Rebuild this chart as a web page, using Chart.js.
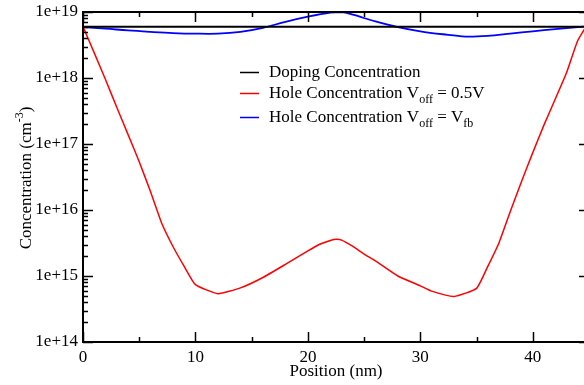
<!DOCTYPE html>
<html>
<head>
<meta charset="utf-8">
<script src="https://cdn.jsdelivr.net/npm/chart.js@4.4.1/dist/chart.umd.min.js"></script>
<style>
  html, body { margin: 0; padding: 0; background: #fff; overflow: hidden; }
  #wrap { width: 600px; height: 385px; }
</style>
</head>
<body>
<div id="wrap"><canvas id="myChart" width="600" height="385"></canvas></div>
<script>
// positions (nm) and concentrations (cm^-3)
var dopingX = [0, 45];
var dopingConc = [6.0e18, 6.0e18];

var holeX05 = [0, 1, 2, 3, 4, 5, 6, 7, 8, 9, 10, 12, 14, 16, 18, 20, 21, 22, 22.5, 23, 24, 25, 26, 28, 30, 31, 33, 35, 36, 37, 38, 39, 40, 41, 42, 43, 44, 45];
var hole05 = [6.0e18, 2.4e18, 9.5e17, 3.6e17, 1.4e17, 5.4e16, 1.9e16, 6.3e15, 2.8e15, 1.4e15, 7.4e14, 5.4e14, 6.6e14, 9.5e14, 1.5e15, 2.4e15, 3.0e15, 3.45e15, 3.6e15, 3.5e15, 2.8e15, 2.15e15, 1.7e15, 1.0e15, 7.1e14, 5.9e14, 4.9e14, 6.5e14, 1.4e15, 3.2e15, 9.5e15, 2.7e16, 7.4e16, 1.95e17, 4.8e17, 1.2e18, 3.7e18, 7.1e18];

var holeXfb = [0, 2, 4, 6, 8, 10, 12, 14, 16, 18, 20, 22, 23, 24, 26, 28, 30, 32, 34, 36, 38, 40, 42, 44, 45];
var holeFb = [5.9e18, 5.6e18, 5.25e18, 5.0e18, 4.8e18, 4.7e18, 4.7e18, 5.0e18, 5.75e18, 7.1e18, 8.5e18, 9.8e18, 1.0e19, 9.1e18, 7.2e18, 5.9e18, 5.1e18, 4.6e18, 4.25e18, 4.35e18, 4.7e18, 5.1e18, 5.5e18, 5.9e18, 6.1e18];

var xMajor = [0, 10, 20, 30, 40];
var xMinor = [5, 15, 25, 35, 45];
var yDecades = [14, 15, 16, 17, 18, 19];

var serif = "'Liberation Serif', 'DejaVu Serif', serif";

function toPoints(xs, ys) {
  var pts = [];
  for (var i = 0; i < xs.length; i++) pts.push({ x: xs[i], y: ys[i] });
  return pts;
}

// draws the frame, inward ticks, axis titles and legend
var decorPlugin = {
  id: 'decor',
  afterDraw: function (chart) {
    var ctx = chart.ctx;
    var a = chart.chartArea;
    var xs = chart.scales.x, ys = chart.scales.y;
    ctx.save();
    ctx.strokeStyle = '#000';
    ctx.lineWidth = 2;
    ctx.strokeRect(a.left, a.top, a.right - a.left, a.bottom - a.top);

    ctx.lineWidth = 1.5;
    ctx.beginPath();
    xMajor.forEach(function (v) {
      var px = Math.round(xs.getPixelForValue(v)) + 0.5;
      ctx.moveTo(px, a.bottom); ctx.lineTo(px, a.bottom - 10);
      ctx.moveTo(px, a.top); ctx.lineTo(px, a.top + 10);
    });
    xMinor.forEach(function (v) {
      var px = Math.round(xs.getPixelForValue(v)) + 0.5;
      ctx.moveTo(px, a.bottom); ctx.lineTo(px, a.bottom - 5);
      ctx.moveTo(px, a.top); ctx.lineTo(px, a.top + 5);
    });
    yDecades.forEach(function (e) {
      for (var k = 1; k <= 9; k++) {
        var val = k * Math.pow(10, e);
        if (val > 1e19 * 1.0001) break;
        var py = Math.round(ys.getPixelForValue(val)) + 0.5;
        var len = k === 1 ? 10 : 5;
        ctx.moveTo(a.left, py); ctx.lineTo(a.left + len, py);
        ctx.moveTo(a.right, py); ctx.lineTo(a.right - len, py);
      }
    });
    ctx.stroke();

    ctx.fillStyle = '#000';
    ctx.textBaseline = 'alphabetic';

    // x title
    ctx.font = '17px ' + serif;
    ctx.textAlign = 'center';
    ctx.fillText('Position (nm)', (a.left + a.right) / 2, 376);

    // y title with superscript
    ctx.save();
    ctx.translate(31, 178);
    ctx.rotate(-Math.PI / 2);
    ctx.textAlign = 'left';
    var t1 = 'Concentration (cm', t2 = '-3', t3 = ')';
    ctx.font = '17px ' + serif;
    var w1 = ctx.measureText(t1).width, w3 = ctx.measureText(t3).width;
    ctx.font = '12px ' + serif;
    var w2 = ctx.measureText(t2).width;
    var x0 = -(w1 + w2 + w3) / 2;
    ctx.font = '17px ' + serif;
    ctx.fillText(t1, x0, 0);
    ctx.font = '12px ' + serif;
    ctx.fillText(t2, x0 + w1, -8);
    ctx.font = '17px ' + serif;
    ctx.fillText(t3, x0 + w1 + w2, 0);
    ctx.restore();

    // legend
    var items = [
      { color: '#000000', y: 72, parts: [['Doping Concentration', 0]] },
      { color: '#ff0000', y: 93, parts: [['Hole Concentration V', 0], ['off', 1], [' = 0.5V', 0]] },
      { color: '#0000ff', y: 117, parts: [['Hole Concentration V', 0], ['off', 1], [' = V', 0], ['fb', 1]] }
    ];
    ctx.textAlign = 'left';
    items.forEach(function (it) {
      ctx.strokeStyle = it.color;
      ctx.lineWidth = 1.5;
      ctx.beginPath();
      ctx.moveTo(240, it.y + 0.5); ctx.lineTo(259, it.y + 0.5);
      ctx.stroke();
      var x = 269;
      it.parts.forEach(function (p) {
        ctx.font = (p[1] ? '12px ' : '17px ') + serif;
        ctx.fillText(p[0], x, it.y + 5 + (p[1] ? 5 : 0));
        x += ctx.measureText(p[0]).width;
      });
    });
    ctx.restore();
  }
};

var ctx = document.getElementById('myChart').getContext('2d');
var chart = new Chart(ctx, {
  type: 'line',
  data: {
    datasets: [
      { label: 'Doping Concentration', data: toPoints(dopingX, dopingConc), borderColor: '#000000', borderWidth: 2, pointRadius: 0, fill: false },
      { label: 'Hole Concentration Voff = 0.5V', data: toPoints(holeX05, hole05), borderColor: '#ff0000', borderWidth: 1.5, pointRadius: 0, fill: false, tension: 0.15 },
      { label: 'Hole Concentration Voff = Vfb', data: toPoints(holeXfb, holeFb), borderColor: '#0000ff', borderWidth: 1.8, pointRadius: 0, fill: false, tension: 0.35 }
    ]
  },
  options: {
    responsive: false,
    animation: false,
    layout: { padding: { top: 12, right: 11, left: 0, bottom: 0 } },
    plugins: { legend: { display: false }, tooltip: { enabled: false } },
    scales: {
      x: {
        type: 'linear',
        min: 0,
        max: 45,
        grid: { display: false, drawTicks: false },
        border: { display: false },
        ticks: {
          stepSize: 10,
          padding: 5,
          color: '#000',
          font: { family: serif, size: 17 },
          maxRotation: 0,
          autoSkip: false,
          callback: function (v) { return v % 10 === 0 ? String(v) : ''; }
        },
        afterFit: function (s) { s.height = 43; s.paddingLeft = 0; s.paddingRight = 0; }
      },
      y: {
        type: 'logarithmic',
        min: 1e14,
        max: 1e19,
        grid: { display: false, drawTicks: false },
        border: { display: false },
        ticks: {
          padding: 5,
          color: '#000',
          autoSkip: false,
          font: { family: serif, size: 17 },
          callback: function (v) {
            var e = Math.log10(v);
            if (Math.abs(e - Math.round(e)) < 1e-9) return '1e+' + Math.round(e);
            return '';
          }
        },
        afterFit: function (s) { s.width = 83; s.paddingTop = 0; s.paddingBottom = 0; }
      }
    }
  },
  plugins: [decorPlugin]
});
</script>
</body>
</html>
